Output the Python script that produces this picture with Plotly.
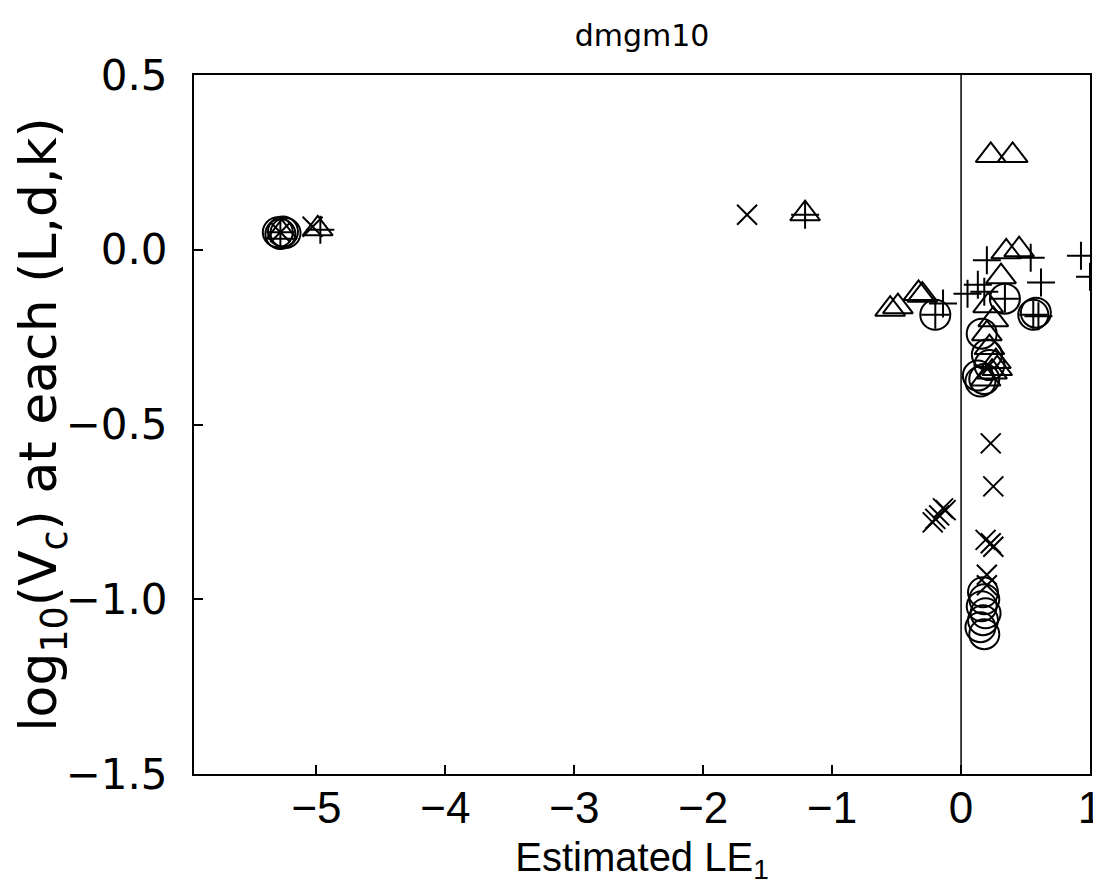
import plotly.graph_objects as go

# ---- data ----
circle_x = [-5.30, -5.28, -5.26, -5.24, -0.20, 0.34, 0.56, 0.58,
            0.16, 0.20, 0.13, 0.15, 0.18, 0.22,
            0.17, 0.18, 0.16, 0.19, 0.17, 0.15, 0.18]
circle_y = [0.050, 0.045, 0.052, 0.048, -0.186, -0.140, -0.186, -0.180,
            -0.240, -0.300, -0.360, -0.377, -0.370, -0.330,
            -0.980, -1.000, -1.020, -1.040, -1.060, -1.080, -1.100]

tri_x = [-5.27, -4.99, -1.21, -0.55, -0.49, -0.33, -0.30,
         0.23, 0.40, 0.35, 0.45, 0.31,
         0.21, 0.25, 0.20, 0.22, 0.27, 0.24, 0.19, 0.28]
tri_y = [0.050, 0.060, 0.103, -0.170, -0.163, -0.125, -0.130,
         0.270, 0.270, -0.006, 0.000, -0.077,
         -0.160, -0.200, -0.240, -0.280, -0.320, -0.350, -0.370, -0.340]

x_x = [-5.03, -5.28, -1.66, -0.22, -0.20, -0.17, -0.14, -0.12,
       0.23, 0.25, 0.19, 0.23, 0.25, 0.20, 0.20]
x_y = [0.066, 0.050, 0.100, -0.780, -0.770, -0.760, -0.740, -0.745,
       -0.554, -0.677, -0.830, -0.840, -0.850, -0.930, -0.960]

plus_x = [-5.28, -4.97, -1.21, -0.20, -0.14, 0.05, 0.13, 0.54, 0.93, 1.00,
          0.62, 0.34, 0.56, 0.60, 0.20, 0.18]
plus_y = [0.050, 0.057, 0.100, -0.186, -0.154, -0.126, -0.100, -0.023, -0.017, -0.077,
          -0.094, -0.140, -0.186, -0.190, -0.030, -0.120]

x_ticks = [-5, -4, -3, -2, -1, 0, 1]
x_tick_text = ["\u22125", "\u22124", "\u22123", "\u22122", "\u22121", "0", "1"]
y_ticks = [0.5, 0.0, -0.5, -1.0, -1.5]
y_tick_text = ["0.5", "0.0", "\u22120.5", "\u22121.0", "\u22121.5"]

fig = go.Figure()

def add(xs, ys, symbol, size):
    fig.add_trace(go.Scatter(
        x=xs, y=ys, mode="markers", showlegend=False, cliponaxis=True,
        marker=dict(symbol=symbol, size=size, color="black",
                    line=dict(color="black", width=2))))

add(circle_x, circle_y, "circle-open", 30)
add(tri_x, tri_y, "triangle-up-open", 26)
add(x_x, x_y, "x-thin-open", 20)
add(plus_x, plus_y, "cross-thin-open", 20)

fig.add_vline(x=0, line=dict(color="black", width=1.5))

# page body has an 8px margin, so the figure is sized to fit inside the window
fig.update_layout(
    width=1093, height=881,
    margin=dict(l=186, r=11, t=67, b=115),
    paper_bgcolor="white", plot_bgcolor="white",
    title=dict(text="dmgm10", x=0.5, xref="paper", xanchor="center",
               y=0.969, yanchor="middle",
               font=dict(family="DejaVu Sans", size=30, color="black")),
)
fig.update_xaxes(
    range=[-5.95, 1.0], tickmode="array", tickvals=x_ticks, ticktext=x_tick_text,
    ticks="inside", ticklen=9, tickwidth=1.5, tickcolor="black",
    showline=True, linecolor="black", linewidth=2, mirror=True,
    showgrid=False, zeroline=False, automargin=False, ticklabelstandoff=-6,
    ticklabeloverflow="allow",
    tickfont=dict(family="Liberation Sans", size=44, color="black"),
    title=dict(text="Estimated LE<sub>1</sub>", standoff=12,
               font=dict(family="Liberation Sans", size=40, color="black")),
)
fig.update_yaxes(
    range=[-1.5, 0.5], tickmode="array", tickvals=y_ticks, ticktext=y_tick_text,
    ticks="inside", ticklen=9, tickwidth=1.5, tickcolor="black",
    showline=True, linecolor="black", linewidth=2, mirror=True,
    showgrid=False, zeroline=False, automargin=False, ticklabelstandoff=16,
    tickfont=dict(family="DejaVu Sans", size=42, color="black"),
    title=dict(text="log<sub>10</sub>(V<sub>c</sub>) at each (L,d,k)", standoff=8,
               font=dict(family="DejaVu Sans", size=52, color="black")),
)

fig.write_html("out.html")
